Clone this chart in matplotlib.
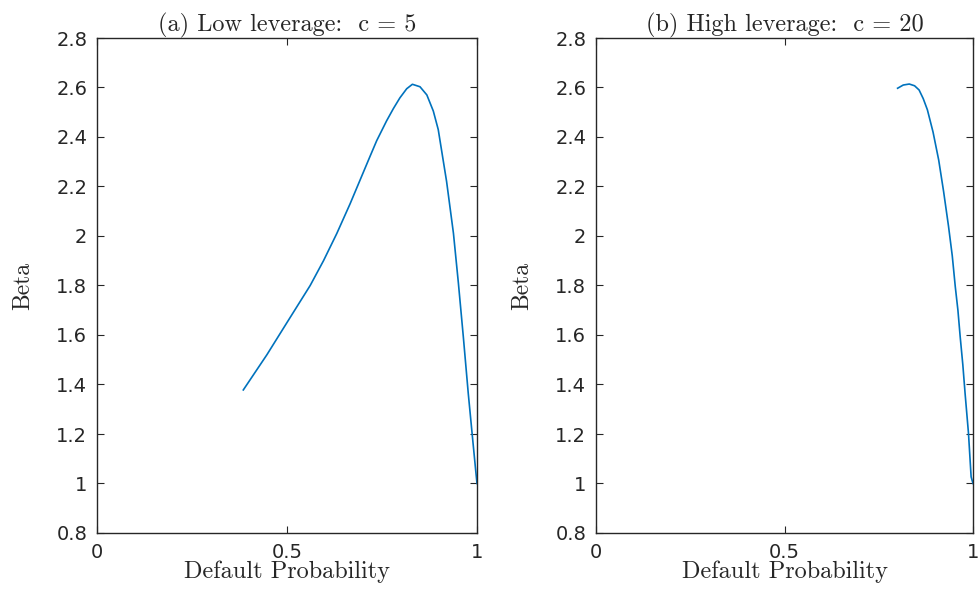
import matplotlib
matplotlib.use("Agg")
import matplotlib.pyplot as plt

titles = ['(a) Low leverage:  c = 5', '(b) High leverage:  c = 20']
xlabel = 'Default Probability'
ylabel = 'Beta'

p_low = [0.385, 0.447, 0.499, 0.561, 0.596, 0.631, 0.666, 0.692, 0.718, 0.736,
         0.762, 0.780, 0.797, 0.815, 0.830, 0.850, 0.868, 0.885, 0.898, 0.920,
         0.938, 0.951, 0.964, 0.977, 0.987, 0.997, 1.0]
beta_low = [1.378, 1.520, 1.648, 1.800, 1.900, 2.010, 2.130, 2.225, 2.320, 2.385,
            2.465, 2.515, 2.558, 2.595, 2.613, 2.603, 2.570, 2.505, 2.430, 2.220,
            2.011, 1.810, 1.593, 1.364, 1.204, 1.046, 1.0]

p_high = [0.80, 0.815, 0.831, 0.845, 0.857, 0.868, 0.879, 0.894, 0.909, 0.922,
          0.935, 0.945, 0.953, 0.960, 0.966, 0.973, 0.979, 0.988, 0.995, 1.0]
beta_high = [2.597, 2.61, 2.614, 2.607, 2.59, 2.555, 2.51, 2.42, 2.307, 2.18,
             2.04, 1.92, 1.795, 1.70, 1.593, 1.48, 1.364, 1.203, 1.027, 1.0]

xticks = [0, 0.5, 1]
xticklabels = ['0', '0.5', '1']
yticks = [0.8, 1.0, 1.2, 1.4, 1.6, 1.8, 2.0, 2.2, 2.4, 2.6, 2.8]
yticklabels = ['0.8', '1', '1.2', '1.4', '1.6', '1.8', '2', '2.2', '2.4', '2.6', '2.8']

serif = 'cmr10'
sans = 'DejaVu Sans'
ink = '#262626'

fig = plt.figure(figsize=(9.8, 5.9), dpi=100)
positions = [[97/980, 57/590, 380/980, 495/590],
             [596/980, 57/590, 377/980, 495/590]]
data = [(p_low, beta_low), (p_high, beta_high)]

for pos, (px, py), title in zip(positions, data, titles):
    ax = fig.add_axes(pos)
    ax.plot(px, py, color='#0072BD', lw=1.2)
    ax.set_xlim(0, 1)
    ax.set_ylim(0.8, 2.8)
    ax.set_xticks(xticks)
    ax.set_xticklabels(xticklabels, fontfamily=sans)
    ax.set_yticks(yticks)
    ax.set_yticklabels(yticklabels, fontfamily=sans)
    ax.tick_params(direction='in', top=True, right=True, labelsize=14,
                   length=5, width=0.8, colors=ink)
    ax.tick_params(axis='x', pad=7)
    ax.tick_params(axis='y', pad=7)
    for s in ax.spines.values():
        s.set_linewidth(1.0)
        s.set_color(ink)
    ax.set_title(title, fontsize=17.5, pad=5, color=ink, fontfamily=serif)
    ax.set_xlabel(xlabel, fontsize=17.5, labelpad=-1, color=ink, fontfamily=serif)
    ax.set_ylabel(ylabel, fontsize=17, labelpad=16, color=ink, fontfamily=serif)

fig.savefig('out.png', dpi=100)
